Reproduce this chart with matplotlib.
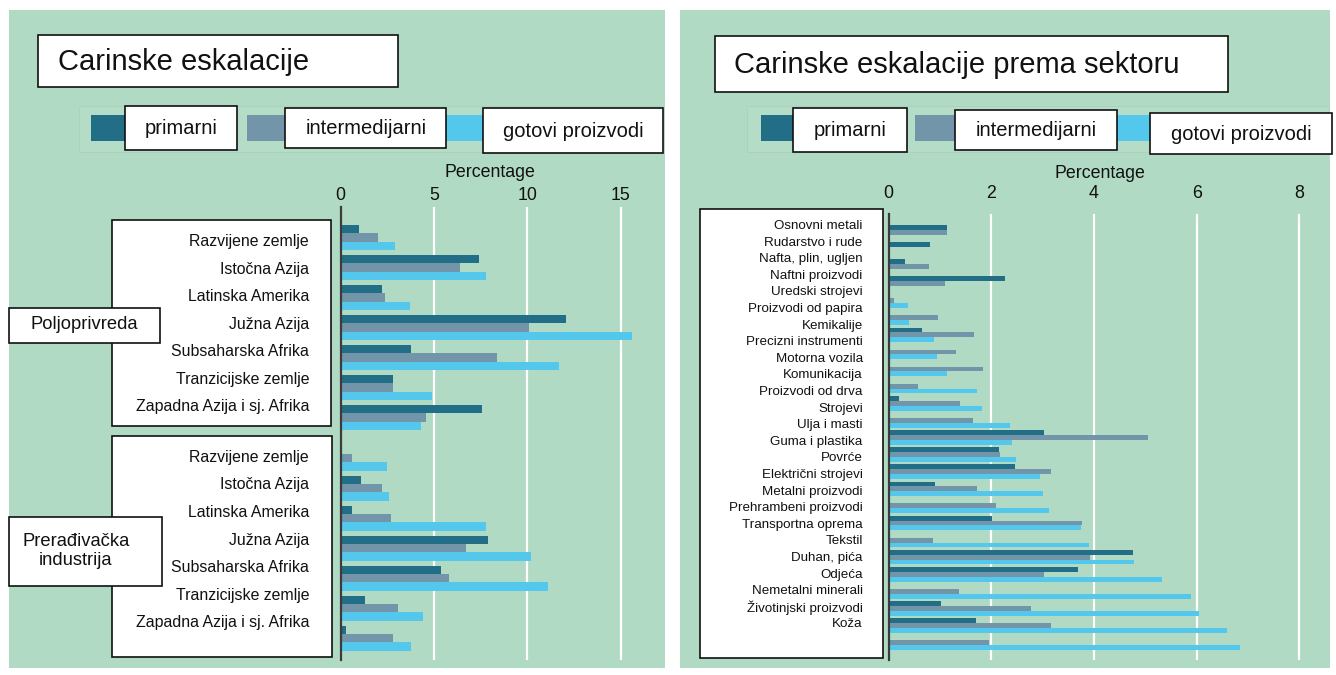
import matplotlib
matplotlib.use("Agg")
import matplotlib.pyplot as plt
from matplotlib.patches import Rectangle
import numpy as np

plt.rcParams['font.family'] = ['Liberation Sans', 'DejaVu Sans']

# ---------------- data ----------------
series = ['primarni', 'intermedijarni', 'gotovi proizvodi']
colors = ['#226E87', '#7295AA', '#54C8EC']

regions = ['Razvijene zemlje', 'Istočna Azija', 'Latinska Amerika', 'Južna Azija',
           'Subsaharska Afrika', 'Tranzicijske zemlje', 'Zapadna Azija i sj. Afrika']
agri_primary = [1.0, 7.4, 2.2, 12.1, 3.8, 2.8, 7.6]
agri_inter = [2.0, 6.4, 2.4, 10.1, 8.4, 2.8, 4.6]
agri_final = [2.9, 7.8, 3.7, 15.6, 11.7, 4.9, 4.3]
manu_primary = [0.05, 1.1, 0.6, 7.9, 5.4, 1.3, 0.3]
manu_inter = [0.6, 2.2, 2.7, 6.7, 5.8, 3.1, 2.8]
manu_final = [2.5, 2.6, 7.8, 10.2, 11.1, 4.4, 3.8]
groups = ['Poljoprivreda', 'Prerađivačka\nindustrija']

sectors = ['Osnovni metali', 'Rudarstvo i rude', 'Nafta, plin, ugljen', 'Naftni proizvodi',
           'Uredski strojevi', 'Proizvodi od papira', 'Kemikalije', 'Precizni instrumenti',
           'Motorna vozila', 'Komunikacija', 'Proizvodi od drva', 'Strojevi', 'Ulja i masti',
           'Guma i plastika', 'Povrće', 'Električni strojevi', 'Metalni proizvodi',
           'Prehrambeni proizvodi', 'Transportna oprema', 'Tekstil', 'Duhan, pića', 'Odjeća',
           'Nemetalni minerali', 'Životinjski proizvodi', 'Koža']
sec_primary = [1.13, 0.80, 0.32, 2.27, 0, 0, 0.65, 0, 0, 0, 0.20, 0, 3.02, 2.15, 2.47,
               0.90, 0, 2.01, 0, 4.77, 3.70, 0, 1.03, 1.71, 0]
sec_inter = [1.13, 0, 0.78, 1.11, 0.11, 0.96, 1.67, 1.31, 1.84, 0.57, 1.40, 1.64, 5.06,
             2.18, 3.16, 1.72, 2.10, 3.77, 0.86, 3.92, 3.02, 1.37, 2.77, 3.16, 1.96]
sec_final = [0, 0, 0, 0, 0.38, 0.40, 0.88, 0.94, 1.13, 1.72, 1.82, 2.36, 2.40, 2.49, 2.95,
             3.01, 3.12, 3.75, 3.90, 4.79, 5.32, 5.90, 6.05, 6.59, 6.84]

left_ticks = [0, 5, 10, 15]
right_ticks = [0, 2, 4, 6, 8]
title_left = 'Carinske eskalacije'
title_right = 'Carinske eskalacije prema sektoru'
axis_label = 'Percentage'

# ---------------- layout helpers ----------------
W, H = 1336, 675
BG = '#B0DAC3'
fig = plt.figure(figsize=(W / 100, H / 100), dpi=100)
fig.patch.set_facecolor('white')


def fx(x):
    return x / W


def fy(y):
    return 1 - y / H


def rect(x0, y0, x1, y1, z=5, **kw):
    r = Rectangle((fx(x0), fy(y1)), (x1 - x0) / W, (y1 - y0) / H,
                  transform=fig.transFigure, zorder=z, **kw)
    fig.add_artist(r)
    return r


def box(x0, y0, x1, y1):
    rect(x0, y0, x1, y1, z=5, facecolor='white', edgecolor='#111111', linewidth=1.2)


def txt(x, y, s, size, ha='center', va='center', **kw):
    fig.text(fx(x), fy(y), s, fontsize=size, ha=ha, va=va, color='#111111', zorder=6, **kw)


# panel backgrounds
rect(9, 10, 665, 668, z=-10, facecolor=BG, edgecolor='none')
rect(680, 10, 1330, 668, z=-10, facecolor=BG, edgecolor='none')

# ---------------- left panel ----------------
ax1 = fig.add_axes([fx(340.5), fy(660), (658 - 340.5) / W, (660 - 207) / H])
ax1.set_zorder(2)
ax1.patch.set_visible(False)
h1 = 8.33 / 30
yc_agri = np.arange(len(regions))
yc_manu = np.arange(len(regions)) + 7.357
for vals_a, vals_m, off, c in zip([agri_primary, agri_inter, agri_final],
                                  [manu_primary, manu_inter, manu_final],
                                  [-h1, 0, h1], colors):
    ax1.barh(yc_agri + off, vals_a, height=h1, color=c, linewidth=0)
    ax1.barh(yc_manu + off, vals_m, height=h1, color=c, linewidth=0)
ax1.set_xlim(0, 17)
ax1.set_ylim(14.08, -1.017)
ax1.set_xticks(left_ticks)
ax1.xaxis.tick_top()
ax1.tick_params(axis='x', length=0, pad=2.0, labelsize=12.8, labelcolor='#111111')
ax1.set_yticks([])
for t in left_ticks[1:]:
    ax1.axvline(t, color='white', lw=1.6, zorder=0.5)
for s in ['top', 'right', 'bottom']:
    ax1.spines[s].set_visible(False)
ax1.spines['left'].set_color('#3c3c3c')
ax1.spines['left'].set_linewidth(1.6)
txt(490, 173, axis_label, 12.8)

# ---------------- right panel ----------------
ax2 = fig.add_axes([fx(888.5), fy(660), (1319.8 - 888.5) / W, (660 - 214) / H])
ax2.set_zorder(2)
ax2.patch.set_visible(False)
h2 = 4.83 / 17.1
yc_sec = np.arange(len(sectors))
for vals, off, c in zip([sec_primary, sec_inter, sec_final], [-h2, 0, h2], colors):
    ax2.barh(yc_sec + off, vals, height=h2, color=c, linewidth=0)
ax2.set_xlim(0, 8.4)
ax2.set_ylim(25.01, -1.067)
ax2.set_xticks(right_ticks)
ax2.xaxis.tick_top()
ax2.tick_params(axis='x', length=0, pad=8.4, labelsize=12.8, labelcolor='#111111')
ax2.set_yticks([])
for t in right_ticks[1:]:
    ax2.axvline(t, color='white', lw=1.6, zorder=0.5)
for s in ['top', 'right', 'bottom']:
    ax2.spines[s].set_visible(False)
ax2.spines['left'].set_color('#3c3c3c')
ax2.spines['left'].set_linewidth(1.6)
txt(1100, 174, axis_label, 12.8)

# ---------------- titles ----------------
box(37.8, 35, 398, 87)
txt(58, 62, title_left, 21, ha='left')
box(714.5, 36, 1228, 92)
txt(734, 65, title_right, 21, ha='left')

# ---------------- legends ----------------
rect(79, 106, 662, 152, z=3, facecolor='#B4DCC6', edgecolor='#A9D1BC', linewidth=0.6)
rect(747, 106, 1329, 152, z=3, facecolor='#B4DCC6', edgecolor='#A9D1BC', linewidth=0.6)

leg_left = [((91.4, 124.5), (124.5, 106, 237, 150)),
            ((246.8, 285.4), (285.4, 108, 446.4, 148)),
            ((446.4, 482.8), (482.8, 108, 663, 152.7))]
leg_right = [((760.7, 792.6), (792.6, 108.3, 906.9, 151.7)),
             ((915.3, 955.2), (955.2, 110, 1117, 150)),
             ((1117, 1149.7), (1149.7, 112.7, 1332, 154))]
for layout in (leg_left, leg_right):
    for (sw, bx), name, c in zip(layout, series, colors):
        rect(sw[0], 115, sw[1], 141, z=4, facecolor=c, edgecolor='none')
        box(*bx)
        txt((bx[0] + bx[2]) / 2, (bx[1] + bx[3]) / 2 + 1, name, 14.5)

# ---------------- category label boxes ----------------
box(112, 220, 331, 426)
for i, r in enumerate(regions):
    txt(309, 241.7 + 27.5 * i, r, 11.4, ha='right')
box(112, 436, 332, 657)
for i, r in enumerate(regions):
    txt(309, 457.3 + 27.57 * i, r, 11.4, ha='right')
box(9, 308, 160, 343)
txt(84, 325, groups[0], 13.2)
box(9, 517, 162, 586)
txt(76, 551, groups[1], 13.2, linespacing=1.2)

box(700, 209, 882.7, 658)
for i, s in enumerate(sectors):
    txt(862.7, 226 + 16.6 * i, s, 9.66, ha='right')

fig.savefig('out.png', dpi=100, facecolor='white')
